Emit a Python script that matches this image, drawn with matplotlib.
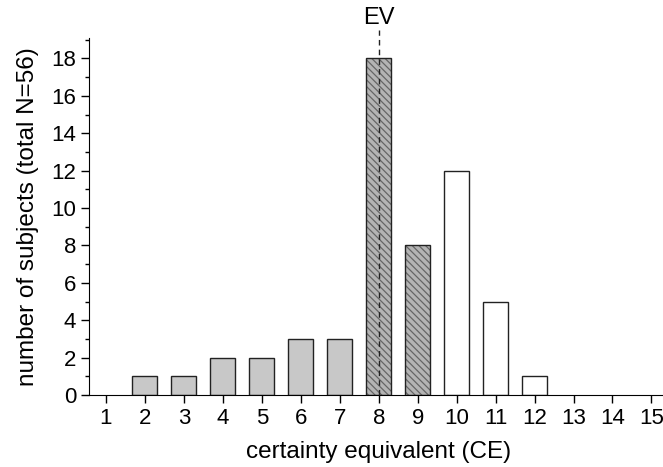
import numpy as np
import matplotlib.pyplot as plt
from matplotlib.ticker import MultipleLocator

plt.rcParams["font.family"] = ["Liberation Sans", "DejaVu Sans"]
plt.rcParams["hatch.linewidth"] = 0.9

ce = np.arange(1, 16)
counts = [0, 1, 1, 2, 2, 3, 3, 18, 8, 12, 5, 1, 0, 0, 0]
# below EV / around EV / above EV
groups = ["low"] * 7 + ["ev"] * 2 + ["high"] * 6
ev = 8

fig = plt.figure(figsize=(6.63, 4.67), dpi=100)
ax = fig.add_axes([0.134, 0.154, 0.875, 0.765])

for x, c, g in zip(ce, counts, groups):
    if c == 0:
        continue
    if g == "low":
        ax.bar(x, c, width=0.64, color="#c8c8c8", edgecolor="#222222", linewidth=1.0)
    elif g == "ev":
        # hatch drawn in a mid grey, outline on top
        ax.bar(x, c, width=0.64, color="#b4b4b4", edgecolor="#666666", linewidth=0,
               hatch="\\\\\\\\\\")
        ax.bar(x, c, width=0.64, color="none", edgecolor="#222222", linewidth=1.0)
    else:
        ax.bar(x, c, width=0.64, color="white", edgecolor="#222222", linewidth=1.0)

ax.plot([ev, ev], [0, 19.5], ls=(0, (4, 3)), color="#222222", lw=1.0, clip_on=False, zorder=5)
ax.text(ev, 19.55, "EV", ha="center", va="bottom", fontsize=17)

ax.set_xlim(0.56, 15.45)
ax.set_ylim(0, 19.1)
ax.set_xticks(ce)
ax.yaxis.set_major_locator(MultipleLocator(2))
ax.yaxis.set_minor_locator(MultipleLocator(1))
ax.spines["top"].set_visible(False)
ax.spines["right"].set_visible(False)
ax.tick_params(labelsize=16, direction="out", length=6, width=1, pad=3)
ax.tick_params(which="minor", length=3, width=1)
ax.set_xlabel("certainty equivalent (CE)", fontsize=17.5, labelpad=9)
ax.set_ylabel("number of subjects (total N=56)", fontsize=17.5, labelpad=9)

fig.savefig("out.png", dpi=100)
